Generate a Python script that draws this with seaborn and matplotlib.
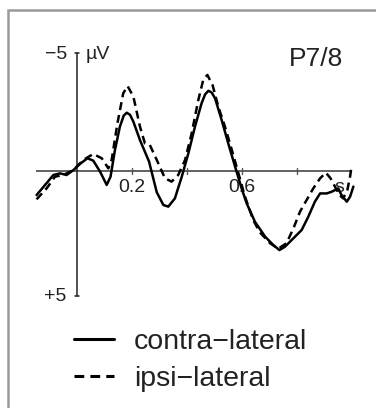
import numpy as np
import pandas as pd
import matplotlib
matplotlib.use("Agg")
import matplotlib.pyplot as plt
from matplotlib.patches import Rectangle
import seaborn as sns

sns.set_theme(style="white")
plt.rcParams["font.family"] = ["Liberation Sans", "DejaVu Sans"]

# ---- data (time in s, amplitude in µV; negative plotted up) ----
contra_t = [-0.147, -0.116, -0.086, -0.062, -0.038, -0.013, 0.011, 0.038, 0.059, 0.084,
            0.108, 0.122, 0.138, 0.156, 0.170, 0.181, 0.193, 0.205, 0.229, 0.262,
            0.290, 0.314, 0.332, 0.356, 0.381, 0.405, 0.429, 0.453, 0.466, 0.478,
            0.490, 0.502, 0.526, 0.550, 0.575, 0.599, 0.617, 0.647, 0.684, 0.714,
            0.736, 0.756, 0.787, 0.817, 0.841, 0.865, 0.884, 0.908, 0.926, 0.950,
            0.962, 0.981, 0.993, 1.005]
contra_v = [1.02, 0.59, 0.17, 0.10, 0.17, -0.04, -0.30, -0.54, -0.44, 0.03,
            0.59, 0.24, -0.89, -1.88, -2.35, -2.47, -2.38, -2.09, -1.31, -0.40,
            0.90, 1.44, 1.51, 1.16, 0.24, -0.75, -1.88, -2.87, -3.25, -3.40,
            -3.32, -3.08, -2.16, -1.17, -0.18, 0.75, 1.37, 2.15, 2.78, 3.14,
            3.35, 3.21, 2.85, 2.50, 1.94, 1.30, 0.95, 0.95, 0.88, 0.74,
            1.02, 1.30, 1.09, 0.66]

ipsi_t = [-0.147, -0.110, -0.080, -0.050, -0.013, 0.023, 0.059, 0.090, 0.114, 0.126,
          0.147, 0.168, 0.184, 0.205, 0.229, 0.247, 0.265, 0.290, 0.320, 0.344,
          0.368, 0.393, 0.417, 0.441, 0.459, 0.474, 0.493, 0.514, 0.538, 0.563,
          0.587, 0.611, 0.641, 0.665, 0.702, 0.732, 0.762, 0.787, 0.811, 0.835,
          0.859, 0.884, 0.905, 0.922, 0.938, 0.954, 0.968, 0.983, 0.993, 0.999]
ipsi_v = [1.20, 0.73, 0.24, 0.17, -0.04, -0.47, -0.72, -0.54, -0.11, -0.47,
          -2.02, -3.29, -3.60, -3.15, -1.88, -1.17, -1.10, -0.47, 0.31, 0.45,
          0.17, -0.47, -1.60, -3.00, -3.86, -4.07, -3.64, -2.72, -1.88, -0.89,
          0.10, 1.09, 2.08, 2.60, 3.06, 3.29, 3.06, 2.43, 1.72, 1.23,
          0.74, 0.31, 0.07, 0.31, 0.66, 1.02, 1.16, 0.81, 0.24, -0.25]

conditions = ["contra\u2212lateral", "ipsi\u2212lateral"]
xtick_vals = [0.2, 0.4, 0.6, 0.8]
xtick_labels = {0.2: "0.2", 0.6: "0.6"}
yaxis_ends = [-5, 5.3]
yaxis_labels = ["\u22125", "+5"]
title = "P7/8"
unit = "\u00b5V"

df = pd.concat([
    pd.DataFrame({"t": contra_t, "v": contra_v, "condition": conditions[0]}),
    pd.DataFrame({"t": ipsi_t, "v": ipsi_v, "condition": conditions[1]}),
], ignore_index=True)

W, H = 376, 408
fig = plt.figure(figsize=(W / 100, H / 100), dpi=100)
ax = fig.add_axes([0, 0, 1, 1])
ax.set_xlim(-77 / 275, (W - 77) / 275)
ax.set_ylim((H - 171) / 23.6, -171 / 23.6)
ax.axis("off")

txt = "#222222"
fs_small = 14

# zero line
ax.plot([-0.15, 1.0], [0, 0], color="#555555", lw=1.3, zorder=1, solid_capstyle="butt")
# x ticks
for xv in xtick_vals:
    ax.plot([xv, xv], [-0.11, 0.11], color="#555555", lw=1.0, zorder=1)
for xv, lab in xtick_labels.items():
    ax.text(xv, 0.68, lab, ha="center", va="center", fontsize=fs_small, color=txt)
ax.text(0.955, 0.68, "s", ha="center", va="center", fontsize=fs_small, color=txt)

# y axis bar with caps
ax.plot([0, 0], yaxis_ends, color="#222222", lw=1.1, zorder=1)
for yv in yaxis_ends:
    ax.plot([-0.009, 0.009], [yv, yv], color="#222222", lw=1.1, zorder=1)
ax.text(-0.037, yaxis_ends[0] + 0.06, yaxis_labels[0], ha="right", va="center",
        fontsize=fs_small, color=txt)
ax.text(-0.037, yaxis_ends[1], yaxis_labels[1], ha="right", va="center",
        fontsize=fs_small, color=txt)
ax.text(0.030, yaxis_ends[0] + 0.06, unit, ha="left", va="center", fontsize=fs_small, color=txt)

# title
ax.text(0.770, -4.75, title, ha="left", va="center", fontsize=19, color=txt)

# traces
sns.lineplot(data=df, x="t", y="v", style="condition", color="black", lw=1.8,
             dashes={conditions[0]: "", conditions[1]: (3.2, 2.0)},
             sort=False, estimator=None, ax=ax, zorder=3)

handles, labels = ax.get_legend_handles_labels()
leg = ax.legend(handles, labels, loc="upper left",
                bbox_to_anchor=(74 / W, 1 - 329 / H), bbox_transform=fig.transFigure,
                frameon=False, fontsize=20.5, handlelength=1.42, handletextpad=0.68,
                labelspacing=0.38, borderpad=0, borderaxespad=0)
for t in leg.get_texts():
    t.set_color(txt)
for h in leg.legend_handles:
    h.set_linewidth(2.2)

# outer frame
fig.patches.append(Rectangle((8 / W, -0.05), 1.2, 1 - 10 / H + 0.05,
                             transform=fig.transFigure, fill=False,
                             edgecolor="#9a9a9a", lw=1.8, zorder=0))

fig.savefig("out.png", dpi=100)
